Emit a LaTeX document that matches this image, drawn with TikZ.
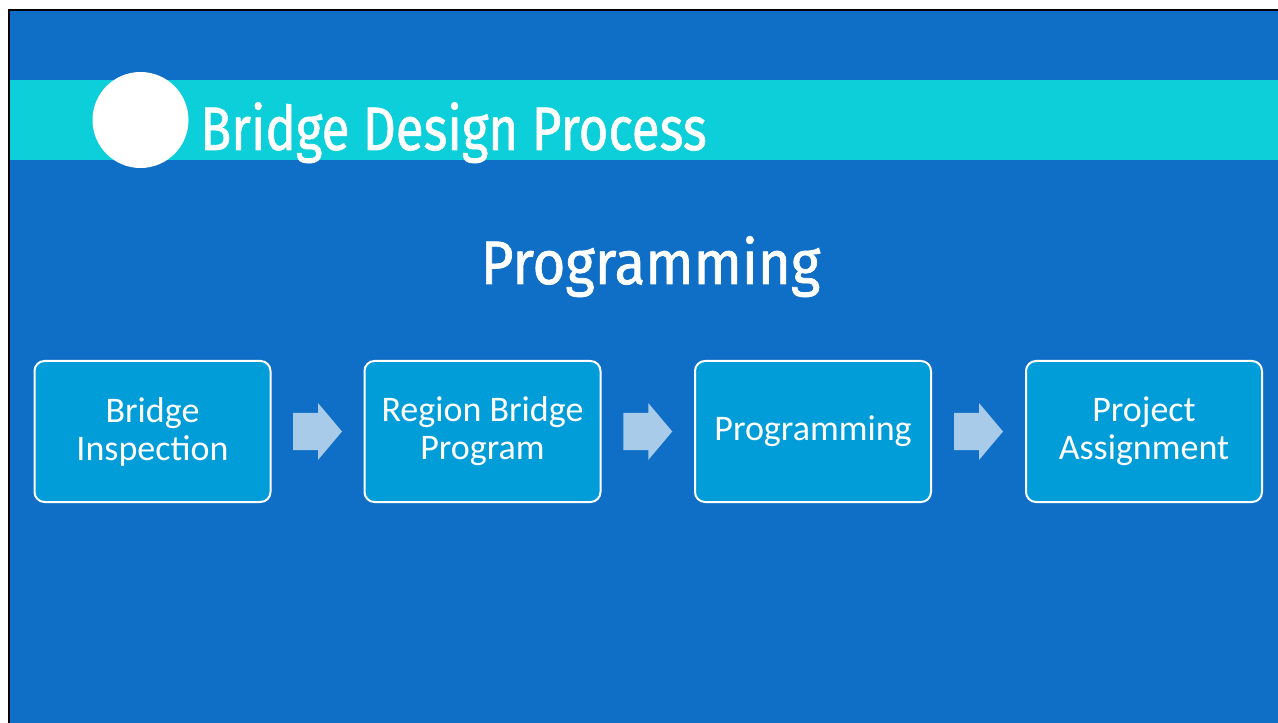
\documentclass[tikz,border=0pt]{standalone}
\usepackage{fontspec}
\setmainfont{Carlito}
\newfontfamily\titlefont[BoldFont={Fira Sans}, BoldFeatures={FakeBold=1.2}]{Fira Sans}
\usetikzlibrary{calc}
\definecolor{slidebg}{HTML}{0F6FC6}
\definecolor{band}{HTML}{0DCFDA}
\definecolor{boxfill}{HTML}{009DD9}
\definecolor{arrowfill}{HTML}{A8CBEA}
\tikzset{
  stepbox/.style={draw=white, line width=1.5pt, fill=boxfill, rounded corners=7.5pt,
    minimum width=236*0.75pt, minimum height=141*0.75pt, inner sep=0pt,
    text=white, align=center, font=\fontsize{27}{28.5}\selectfont},
  flowarrow/.style={fill=arrowfill, draw=none},
  titletext/.style={text=white, inner sep=0pt, font=\titlefont\bfseries\fontsize{46}{50}\selectfont}
}
\begin{document}
\begin{tikzpicture}[x=0.75pt,y=-0.75pt]
\useasboundingbox (0,0) rectangle (1278,723);
\fill[white] (0,0) rectangle (1278,723);
\fill[black] (8,9) rectangle (1278,723);
\fill[slidebg] (10,11) rectangle (1278,723);
\fill[band] (10,80) rectangle (1278,160);
\fill[white] (140.5,120) circle (48);
\node[titletext, anchor=base west] (title) at (200,150) {\scalebox{0.832}[1]{Bridge Design Process}};
\node[titletext, anchor=base] (heading) at (650.5,284) {\scalebox{0.92}[1]{Programming}};
\node[stepbox] (b1) at (152.5,431.5) {Bridge\\Inspection};
\node[stepbox] (b2) at (482.5,431.5) {Region Bridge\\Program};
\node[stepbox] (b3) at (813,431.5) {Programming};
\node[stepbox] (b4) at (1144,431.5) {Project\\Assignment};
\foreach \a/\b/\n in {b1/b2/m1,b2/b3/m2,b3/b4/m3}{
  \coordinate (\n) at ($(\a.east)!0.5!(\b.west)$);
  \fill[flowarrow] ($(\n)+(-24.5,-18.5)$) -- ($(\n)+(0.5,-18.5)$) -- ($(\n)+(0.5,-28.5)$)
    -- ($(\n)+(24.5,0)$) -- ($(\n)+(0.5,28.5)$) -- ($(\n)+(0.5,18.5)$)
    -- ($(\n)+(-24.5,18.5)$) -- cycle;
}
\end{tikzpicture}
\end{document}
